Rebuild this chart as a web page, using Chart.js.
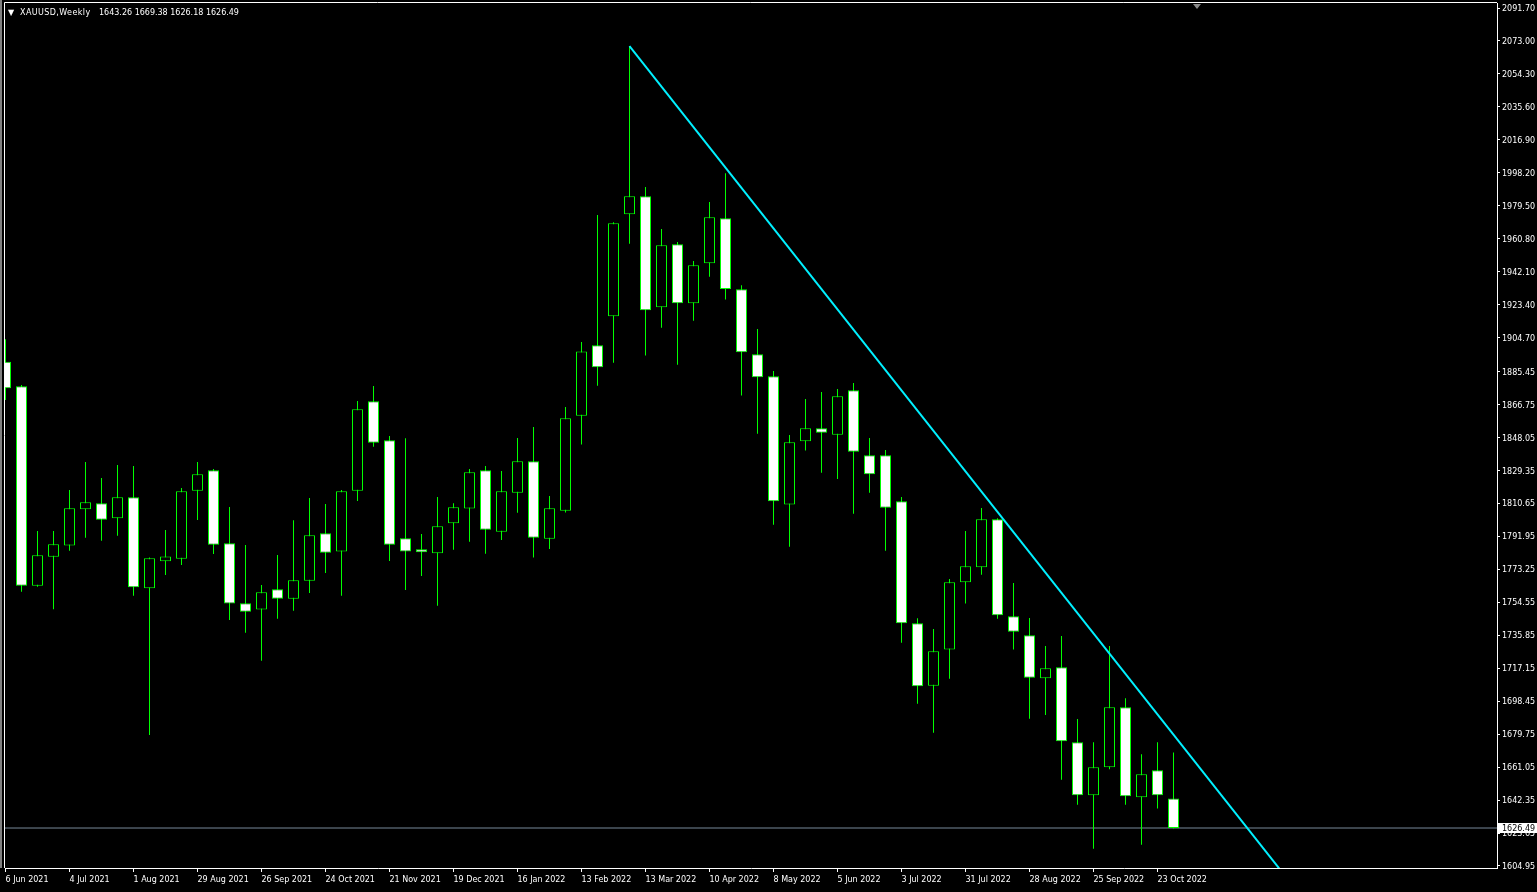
<!DOCTYPE html>
<html>
<head>
<meta charset="utf-8">
<title>XAUUSD,Weekly</title>
<script src="https://cdn.jsdelivr.net/npm/chart.js@4.4.0/dist/chart.umd.min.js"></script>
<style>
    html, body { margin: 0; padding: 0; background: #000; overflow: hidden; }
    #wrap { position: relative; width: 1537px; height: 892px; }
    #chart { position: absolute; left: 0; top: 0; }
    .hdr { position: absolute; top: 8px; color: #fff; font: 8px "DejaVu Sans", sans-serif; line-height: 10px; white-space: pre; }
</style>
</head>
<body>
<div id="wrap">
    <canvas id="chart" width="1537" height="892"></canvas>
    <span class="hdr" style="left:8px">&#9660;</span>
    <span class="hdr" id="symbol" style="left:20px; letter-spacing:0.4px">XAUUSD,Weekly</span>
    <span class="hdr" id="ohlc" style="left:99px"></span>
</div>
<script>
// Weekly candles, first one is the week of 6 Jun 2021
const opens = [
    1891.0, 1877.1, 1764.0, 1780.4, 1786.7, 1807.3, 1810.7, 1802.2, 1814.1, 1762.5,
    1777.8, 1779.3, 1817.9, 1829.4, 1788.0, 1754.0, 1750.4, 1761.9, 1756.6, 1766.8,
    1793.7, 1783.3, 1817.9, 1868.6, 1846.5, 1790.9, 1784.6, 1782.4, 1799.4, 1807.7,
    1829.4, 1794.6, 1816.7, 1834.5, 1790.6, 1806.5, 1860.4, 1900.4, 1916.8, 1974.7,
    1984.9, 1921.9, 1957.7, 1924.2, 1946.9, 1972.4, 1932.1, 1895.2, 1882.8, 1810.1,
    1845.9, 1853.3, 1849.6, 1874.8, 1837.9, 1837.9, 1811.9, 1742.6, 1707.2, 1727.7,
    1765.9, 1774.4, 1801.6, 1746.6, 1735.8, 1711.4, 1717.7, 1675.1, 1645.1, 1660.9,
    1695.0, 1643.9, 1659.2, 1643.26
];
const highs = [
    1903.8, 1877.8, 1795.0, 1795.0, 1818.3, 1834.1, 1825.1, 1832.4, 1831.9, 1780.0,
    1795.6, 1819.4, 1834.1, 1830.2, 1808.6, 1787.1, 1764.4, 1781.4, 1801.1, 1813.7,
    1810.3, 1818.3, 1868.8, 1877.3, 1848.9, 1847.6, 1793.3, 1814.3, 1810.7, 1830.2,
    1831.9, 1829.0, 1847.8, 1854.0, 1814.9, 1865.3, 1902.2, 1974.3, 1970.1, 2070.1,
    1990.2, 1966.3, 1958.9, 1948.2, 1981.6, 1997.9, 1934.4, 1909.6, 1885.8, 1849.5,
    1869.9, 1873.9, 1875.6, 1879.0, 1847.8, 1841.0, 1814.3, 1745.5, 1739.4, 1767.8,
    1795.0, 1808.1, 1802.2, 1765.5, 1745.6, 1729.8, 1735.4, 1688.3, 1675.1, 1729.8,
    1700.1, 1668.3, 1675.1, 1669.38
];
const lows = [
    1869.3, 1760.6, 1763.4, 1750.6, 1783.8, 1791.2, 1789.5, 1792.3, 1758.3, 1679.3,
    1770.0, 1775.7, 1801.2, 1782.0, 1744.5, 1737.3, 1721.4, 1745.2, 1749.8, 1759.8,
    1771.2, 1758.3, 1812.0, 1842.8, 1778.0, 1761.5, 1769.5, 1752.6, 1784.4, 1788.9,
    1782.1, 1789.9, 1805.4, 1779.9, 1784.8, 1805.5, 1844.0, 1877.4, 1890.5, 1958.0,
    1894.5, 1910.3, 1889.3, 1914.3, 1939.3, 1926.4, 1871.8, 1850.2, 1798.6, 1786.1,
    1840.6, 1828.1, 1824.5, 1804.8, 1816.7, 1783.8, 1731.6, 1697.0, 1680.6, 1711.2,
    1753.8, 1770.2, 1745.2, 1727.7, 1688.5, 1690.6, 1653.9, 1639.7, 1614.8, 1659.8,
    1639.7, 1617.0, 1637.5, 1626.18
];
const closes = [
    1876.0, 1764.0, 1781.2, 1787.5, 1807.9, 1811.3, 1801.4, 1814.1, 1763.1, 1779.5,
    1780.6, 1817.5, 1827.2, 1787.2, 1753.8, 1749.2, 1760.2, 1756.6, 1767.0, 1792.6,
    1782.7, 1817.5, 1864.0, 1845.1, 1787.2, 1783.3, 1782.9, 1797.7, 1808.4, 1828.3,
    1795.7, 1817.5, 1834.5, 1791.2, 1807.9, 1858.9, 1896.9, 1887.9, 1969.6, 1984.9,
    1920.2, 1957.1, 1924.2, 1945.7, 1973.0, 1932.3, 1896.4, 1882.2, 1811.9, 1845.3,
    1853.3, 1850.8, 1871.4, 1840.0, 1827.2, 1808.2, 1742.6, 1706.9, 1726.8, 1765.9,
    1775.0, 1801.6, 1747.2, 1737.9, 1711.8, 1717.1, 1675.7, 1645.1, 1660.9, 1695.0,
    1644.5, 1657.0, 1645.1, 1626.49
];

// date axis: one label every 4 weeks
const dateTickIdx = [0, 4, 8, 12, 16, 20, 24, 28, 32, 36, 40, 44, 48, 52, 56, 60, 64, 68, 72];
const dateTickLabels = [
    '6 Jun 2021', '4 Jul 2021', '1 Aug 2021', '29 Aug 2021', '26 Sep 2021', '24 Oct 2021',
    '21 Nov 2021', '19 Dec 2021', '16 Jan 2022', '13 Feb 2022', '13 Mar 2022', '10 Apr 2022',
    '8 May 2022', '5 Jun 2022', '3 Jul 2022', '31 Jul 2022', '28 Aug 2022', '25 Sep 2022', '23 Oct 2022'
];

// price axis
const priceTicks = [
    2091.70, 2073.00, 2054.30, 2035.60, 2016.90, 1998.20, 1979.50, 1960.80, 1942.10,
    1923.40, 1904.70, 1885.45, 1866.75, 1848.05, 1829.35, 1810.65, 1791.95, 1773.25,
    1754.55, 1735.85, 1717.15, 1698.45, 1679.75, 1661.05, 1642.35, 1623.65, 1604.95
];

// cyan trend line (candle index, price)
const trendIdx = [39, 85];
const trendPrice = [2070.1, 1541.6];

const lastPrice = closes[closes.length - 1];

// visible window
const xMin = -0.03125, xMax = 93.21875;
const yMin = 1603.81, yMax = 2094.54;

const GREEN = '#00ff00';
const AXIS_FONT = { family: 'DejaVu Sans', size: 8 };

document.getElementById('ohlc').textContent = [
    opens[opens.length - 1], highs[highs.length - 1], lows[lows.length - 1], lastPrice
].map(v => v.toFixed(2)).join(' ');

const candleIdx = opens.map((o, i) => i);

const bodyData = candleIdx.map(i => ({ x: i, y: [opens[i], closes[i]] }));
const wickData = candleIdx.map(i => ({ x: i, y: [lows[i], highs[i]] }));
const bodyFill = candleIdx.map(i => closes[i] < opens[i] ? '#ffffff' : '#000000');

const mtDecor = {
    id: 'mtDecor',
    beforeDraw(chart) {
        const ctx = chart.ctx;
        ctx.save();
        ctx.fillStyle = '#000';
        ctx.fillRect(0, 0, chart.width, chart.height);
        ctx.restore();
    },
    afterDraw(chart) {
        const { ctx, chartArea: a, scales } = chart;
        ctx.save();

        // window edge and chart frame
        ctx.fillStyle = '#808080';
        ctx.fillRect(0, 0, 2, a.bottom);
        ctx.strokeStyle = '#ffffff';
        ctx.lineWidth = 1;
        ctx.beginPath();
        ctx.moveTo(a.left - 0.5, a.bottom);
        ctx.lineTo(a.left - 0.5, a.top - 0.5);
        ctx.lineTo(a.right, a.top - 0.5);
        ctx.stroke();

        // chart shift marker
        ctx.fillStyle = '#8a8a8a';
        ctx.beginPath();
        ctx.moveTo(1193, 4);
        ctx.lineTo(1201, 4);
        ctx.lineTo(1197, 9);
        ctx.closePath();
        ctx.fill();

        // last price label on the price axis
        const py = Math.round(scales.y.getPixelForValue(lastPrice));
        ctx.fillStyle = '#ffffff';
        ctx.fillRect(a.right + 1, py - 5, chart.width - a.right - 1, 10);
        ctx.fillStyle = '#000000';
        ctx.font = '8px "DejaVu Sans"';
        ctx.textBaseline = 'middle';
        ctx.textAlign = 'left';
        ctx.fillText(lastPrice.toFixed(2), a.right + 5, py + 1);

        ctx.restore();
    }
};

new Chart(document.getElementById('chart'), {
    type: 'bar',
    data: {
        datasets: [
            {
                type: 'line',
                label: 'Trend',
                data: trendIdx.map((x, i) => ({ x: x, y: trendPrice[i] })),
                borderColor: '#00f0ff',
                borderWidth: 2,
                pointRadius: 0,
                clip: 0,
                order: 0
            },
            {
                label: 'Body',
                data: bodyData,
                backgroundColor: bodyFill,
                borderColor: GREEN,
                borderWidth: 1,
                borderSkipped: false,
                inflateAmount: 0,
                barThickness: 11,
                grouped: false,
                clip: 0,
                order: 1
            },
            {
                label: 'Wick',
                data: wickData,
                backgroundColor: GREEN,
                borderWidth: 0,
                inflateAmount: 0,
                barThickness: 1,
                grouped: false,
                clip: 0,
                order: 2
            },
            {
                type: 'line',
                label: 'Last',
                data: [{ x: xMin, y: lastPrice }, { x: xMax, y: lastPrice }],
                borderColor: '#778899',
                borderWidth: 1,
                pointRadius: 0,
                clip: 0,
                order: 3
            }
        ]
    },
    options: {
        responsive: false,
        devicePixelRatio: 1,
        animation: false,
        events: [],
        layout: { padding: { left: 5, top: 3, right: 0, bottom: 0 } },
        plugins: {
            legend: { display: false },
            tooltip: { enabled: false }
        },
        scales: {
            x: {
                type: 'linear',
                position: 'bottom',
                min: xMin,
                max: xMax,
                offset: false,
                afterBuildTicks: (scale) => {
                    scale.ticks = dateTickIdx.map(v => ({ value: v }));
                },
                afterFit: (scale) => {
                    scale.height = 24;
                    scale.paddingLeft = 0;
                    scale.paddingRight = 0;
                },
                ticks: {
                    color: '#ffffff',
                    font: AXIS_FONT,
                    align: 'start',
                    autoSkip: false,
                    maxRotation: 0,
                    minRotation: 0,
                    padding: 3,
                    callback: (value, index) => dateTickLabels[index]
                },
                grid: {
                    offset: false,
                    drawOnChartArea: false,
                    drawTicks: true,
                    tickLength: 4,
                    color: '#ffffff'
                },
                border: { display: true, color: '#ffffff' }
            },
            y: {
                type: 'linear',
                position: 'right',
                min: yMin,
                max: yMax,
                beginAtZero: false,
                afterBuildTicks: (scale) => {
                    scale.ticks = priceTicks.map(v => ({ value: v }));
                },
                afterFit: (scale) => {
                    scale.width = 40;
                    scale.paddingTop = 0;
                    scale.paddingBottom = 0;
                },
                ticks: {
                    color: '#ffffff',
                    font: AXIS_FONT,
                    autoSkip: false,
                    padding: 2,
                    labelOffset: 1,
                    callback: (value) => value.toFixed(2)
                },
                grid: {
                    drawOnChartArea: false,
                    drawTicks: true,
                    tickLength: 3,
                    color: '#ffffff'
                },
                border: { display: true, color: '#ffffff' }
            }
        }
    },
    plugins: [mtDecor]
});
</script>
</body>
</html>
